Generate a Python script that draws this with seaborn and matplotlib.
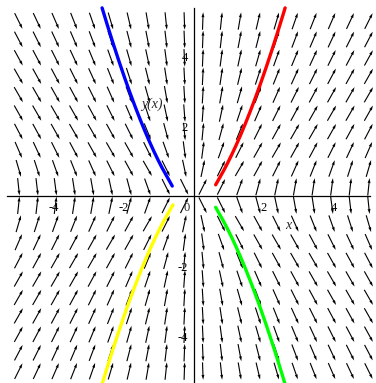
import numpy as np
import matplotlib
matplotlib.use('Agg')
import matplotlib.pyplot as plt
import seaborn as sns

# direction field of 2*x*y*y' = x^2 + 3*y^2 (Maple style dfieldplot)
field_range = (-5, 5)
n_arrows = 20
arrow_len = 0.5

# initial conditions of the four solution curves and their colours
init_x = [1, -1, -1, 1]
init_y = [1, 1, -1, -1]
curve_colors = ['#ff0000', '#0000ff', '#ffff00', '#00ff00']
# where each curve stops near the singular line
x_near = [0.63, 0.61, 0.59, 0.63]
y_limit = 5.37

x_ticks = [-5, -4, -3, -2, -1, 1, 2, 3, 4, 5]
x_labels = ['', '-4', '', '-2', '', '', '2', '', '4', '']
y_ticks = [-5, -4, -3, -2, -1, 1, 2, 3, 4, 5]
y_labels = ['', '-4', '', '-2', '', '', '2', '', '4', '']


def slope(x, y):
    return (x**2 + 3 * y**2) / (2 * x * y)


def rk4_curve(x0, y0, xstop, ylim, h=0.002):
    s = np.sign(x0)
    # toward the singular line
    back = [(x0, y0)]
    x, y = x0, y0
    while abs(x) > xstop:
        k1 = slope(x, y)
        k2 = slope(x - s * h / 2, y - s * h / 2 * k1)
        k3 = slope(x - s * h / 2, y - s * h / 2 * k2)
        k4 = slope(x - s * h, y - s * h * k3)
        y = y - s * h / 6 * (k1 + 2 * k2 + 2 * k3 + k4)
        x = x - s * h
        back.append((x, y))
    # away from the origin
    fwd = []
    x, y = x0, y0
    while abs(y) < ylim:
        k1 = slope(x, y)
        k2 = slope(x + s * h / 2, y + s * h / 2 * k1)
        k3 = slope(x + s * h / 2, y + s * h / 2 * k2)
        k4 = slope(x + s * h, y + s * h * k3)
        y = y + s * h / 6 * (k1 + 2 * k2 + 2 * k3 + k4)
        x = x + s * h
        fwd.append((x, y))
    pts = back[::-1] + fwd
    return np.array([p[0] for p in pts]), np.array([p[1] for p in pts])


sns.set_theme(style='white')
plt.rcParams['font.family'] = ['Liberation Serif', 'DejaVu Serif']

fig = plt.figure(figsize=(3.76, 3.83), dpi=100)
ax = fig.add_axes([0, 0, 1, 1])

g = np.linspace(field_range[0], field_range[1], n_arrows)
X, Y = np.meshgrid(g, g)
S = slope(X, Y)
U = 1 / np.sqrt(1 + S**2)
V = S * U
ax.quiver(X, Y, U * arrow_len, V * arrow_len, angles='xy', scale_units='xy',
          scale=1, pivot='middle', color='black', width=0.003,
          headwidth=2.6, headlength=4.5, headaxislength=4.2, zorder=2)

for x0, y0, xs, c in zip(init_x, init_y, x_near, curve_colors):
    cx, cy = rk4_curve(x0, y0, xs, y_limit)
    sns.lineplot(x=cx, y=cy, sort=False, estimator=None, color=c,
                 linewidth=2.4, ax=ax, zorder=3)

ax.set_xlim(-5.53, 5.21)
ax.set_ylim(-5.34, 5.60)
ax.set_facecolor('white')

for side in ['top', 'right']:
    ax.spines[side].set_visible(False)
ax.spines['bottom'].set_position(('data', 0))
ax.spines['left'].set_position(('data', 0))
ax.spines['bottom'].set_bounds(-5.32, 5.05)
ax.spines['left'].set_bounds(-5.34, 5.37)
for side in ['bottom', 'left']:
    ax.spines[side].set_color('black')
    ax.spines[side].set_linewidth(0.9)
    ax.spines[side].set_zorder(1)

ax.set_xticks(x_ticks)
ax.set_xticklabels(x_labels, fontsize=9)
ax.set_yticks(y_ticks)
ax.set_yticklabels(y_labels, fontsize=9)
ax.tick_params(axis='x', direction='in', length=3, width=0.8, pad=4, colors='black')
ax.tick_params(axis='y', direction='out', length=3, width=0.8, pad=1, colors='black')

ax.text(-0.2, -0.35, '0', fontsize=9, ha='center', va='center')
ax.text(2.7, -0.83, 'x', fontsize=10, style='italic', ha='center', va='center')
ax.text(-1.19, 2.63, 'y(x)', fontsize=10, style='italic', ha='center', va='center')

fig.savefig('out.png', dpi=100)
